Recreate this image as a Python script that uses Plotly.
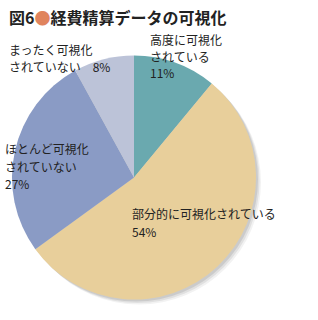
import plotly.graph_objects as go

categories = ["高度に可視化されている", "部分的に可視化されている", "ほとんど可視化されていない", "まったく可視化されていない"]
values = [11, 54, 27, 8]
colors = ["#6aa9af", "#e8cf9b", "#8a9bc5", "#bcc3d8"]
title = "図6<span style='color:#e0845e'>●</span>経費精算データの可視化"
label_lines = [
    ["高度に可視化", "されている", "11%"],
    ["部分的に可視化されている", "54%"],
    ["ほとんど可視化", "されていない", "27%"],
    ["まったく可視化", "されていない　8%"],
]
label_pos = [(148, 33), (130, 207), (3, 142), (7, 43)]
line_pitch = [16.5, 18, 17.5, 17]

W, H = 318, 320
font = "Noto Sans CJK JP"
pie_x = [12 / W, 256 / W]
pie_y = [1 - 300 / H, 1 - 55 / H]

fig = go.Figure()
# soft drop shadow
for i, (dx, a) in enumerate([(5, 0.05), (3.5, 0.07), (2, 0.09)]):
    fig.add_trace(go.Pie(
        values=[1], sort=False, marker=dict(colors=[f"rgba(0,0,0,{a})"], line=dict(width=0)),
        textinfo="none", hoverinfo="skip", showlegend=False,
        domain=dict(x=[pie_x[0] + dx / W, pie_x[1] + dx / W], y=[pie_y[0] - dx / H, pie_y[1] - dx / H]),
    ))
fig.add_trace(go.Pie(
    labels=categories, values=values, sort=False, direction="clockwise", rotation=0,
    marker=dict(colors=colors, line=dict(width=0)),
    textinfo="none", hoverinfo="label+percent", showlegend=False,
    domain=dict(x=pie_x, y=pie_y),
))

annotations = [dict(
    text="<b>" + title + "</b>", x=7 / W, y=1 - 3 / H, xref="paper", yref="paper",
    xanchor="left", yanchor="top", showarrow=False,
    font=dict(family=font, size=16, color="#222222"), align="left")]
for lines, (px, py), pitch in zip(label_lines, label_pos, line_pitch):
    for k, t in enumerate(lines):
        annotations.append(dict(
            text=t, x=px / W, y=1 - (py - 4 + k * pitch) / H, xref="paper", yref="paper",
            xanchor="left", yanchor="top", showarrow=False, align="left",
            font=dict(family=font, size=12, color="#222222")))

fig.update_layout(
    width=W, height=H, margin=dict(l=0, r=0, t=0, b=0),
    paper_bgcolor="white", plot_bgcolor="white",
    annotations=annotations,
)
fig.write_html("out.html")
